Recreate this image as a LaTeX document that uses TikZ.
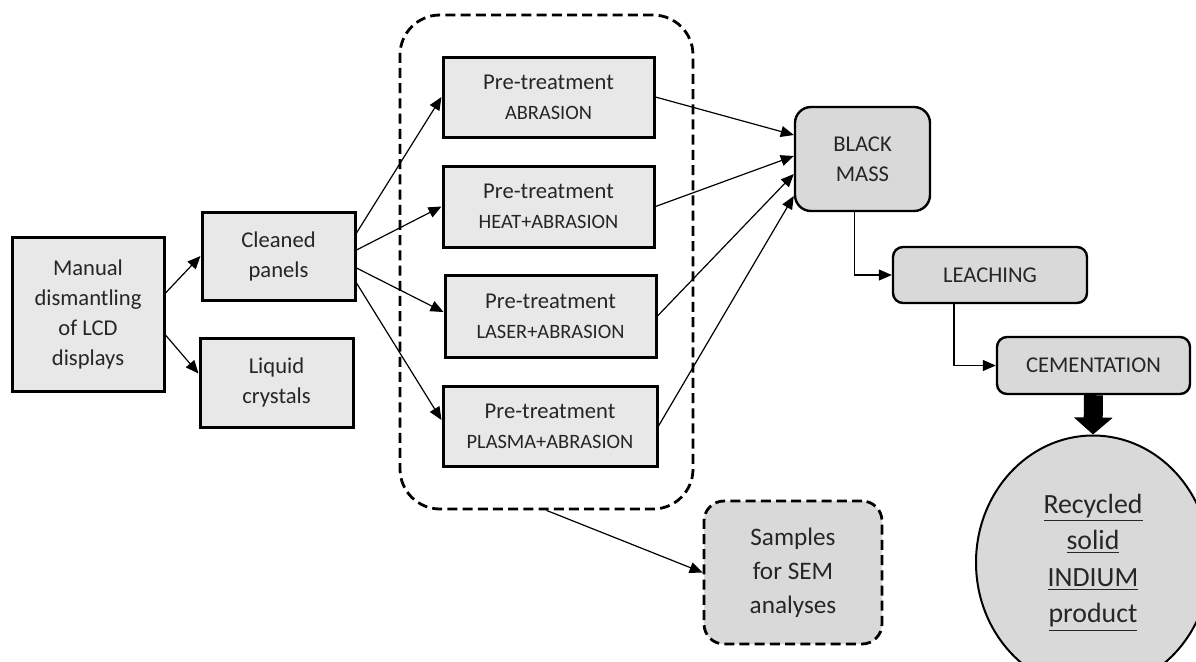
\documentclass[tikz,border=0pt]{standalone}
\usepackage{fontspec}
\setmainfont{Carlito}
\usetikzlibrary{arrows.meta,shapes.geometric}
\newcommand\pretreat[1]{Pre-treatment\\{\fontsize{10.2}{15}\selectfont #1}}

\begin{document}
\begin{tikzpicture}[x=0.5pt, y=-0.5pt, >={Triangle[length=6.5pt,width=5.5pt]},
    box/.style={draw, line width=1.5pt, fill=black!9, align=center, inner sep=0pt,
        text=black!85, font=\fontsize{11.3}{15}\selectfont},
    rbox/.style={box, line width=1.2pt, fill=black!15, rounded corners=5pt},
    dashbox/.style={draw, line width=1.4pt, dash pattern=on 5pt off 2.6pt},
    conn/.style={->, line width=0.6pt}]
    % 1. Khung
    \useasboundingbox (0,0) rectangle (1196,661);
    \node[dashbox, rounded corners=20pt, minimum width=146.5pt, minimum height=247pt] (grp) at (546.5,262) {};

    % 2. Cac hop ben trai
    \node[box, minimum width=76pt, minimum height=77pt] (man) at (88,314) {Manual\\dismantling\\of LCD\\displays};
    \node[box, minimum width=76.5pt, minimum height=44pt] (clean) at (278.5,256) {Cleaned\\panels};
    \node[box, minimum width=76.5pt, minimum height=44.5pt] (liq) at (276.5,382.5) {Liquid\\crystals};

    % 3. Tien xu ly
    \node[box, minimum width=105.5pt, minimum height=40pt] (pt1) at (548.5,97) {\pretreat{ABRASION}};
    \node[box, minimum width=105.5pt, minimum height=40.5pt] (pt2) at (548.5,206.5) {\pretreat{HEAT+ABRASION}};
    \node[box, minimum width=105.5pt, minimum height=41pt] (pt3) at (550.5,316) {\pretreat{LASER+ABRASION}};
    \node[box, minimum width=107pt, minimum height=40pt] (pt4) at (550,426) {\pretreat{PLASMA+ABRASION}};

    % 4. Cac buoc thu hoi
    \node[rbox, rounded corners=8pt, minimum width=67.5pt, minimum height=52pt] (bm) at (862.5,159) {BLACK\\MASS};
    \node[rbox, minimum width=97pt, minimum height=28pt] (leach) at (990,275) {LEACHING};
    \node[rbox, minimum width=96.5pt, minimum height=28.5pt] (cem) at (1093.5,365.5) {CEMENTATION};
    \node[box, dashbox, fill=black!15, rounded corners=10pt, minimum width=89pt, minimum height=71.5pt,
        font=\fontsize{12.6}{17}\selectfont] (samp) at (793,572.5) {Samples\\for SEM\\analyses};
    \node[box, ellipse, line width=1pt, fill=black!15, minimum width=117pt, minimum height=127pt,
        font=\fontsize{13.9}{18.3}\selectfont] (prod) at (1093,562.5)
        {\underline{Recycled}\\\underline{solid}\\\underline{INDIUM}\\\underline{product}};

    % 5. Mui ten
    \draw[conn] ([yshift=10.5pt]man.east) -- (clean.west);
    \draw[conn] ([yshift=-10.5pt]man.east) -- ([yshift=4.5pt]liq.west);
    \draw[conn] ([yshift=11.5pt]clean.east) -- (pt1.west);
    \draw[conn] ([yshift=3pt]clean.east) -- (pt2.west);
    \draw[conn] ([yshift=-6pt]clean.east) -- ([yshift=2pt]pt3.west);
    \draw[conn] ([yshift=-13.5pt]clean.east) -- ([yshift=3pt]pt4.west);
    \foreach \i/\s in {1/12, 2/1.5, 3/-7.5, 4/-18.5}
        \draw[conn] (pt\i.east) -- ([yshift=\s pt]bm.west);
    \draw[conn] ([xshift=-4pt]bm.south) |- (leach.west);
    \draw[conn] ([xshift=-18pt]leach.south) |- (cem.west);
    \draw[conn] (grp.south) -- (samp.west);
    \draw[line width=9.5pt, -{Triangle[length=8.5pt,width=19pt]}] (cem.south) -- (prod.north);
\end{tikzpicture}
\end{document}
